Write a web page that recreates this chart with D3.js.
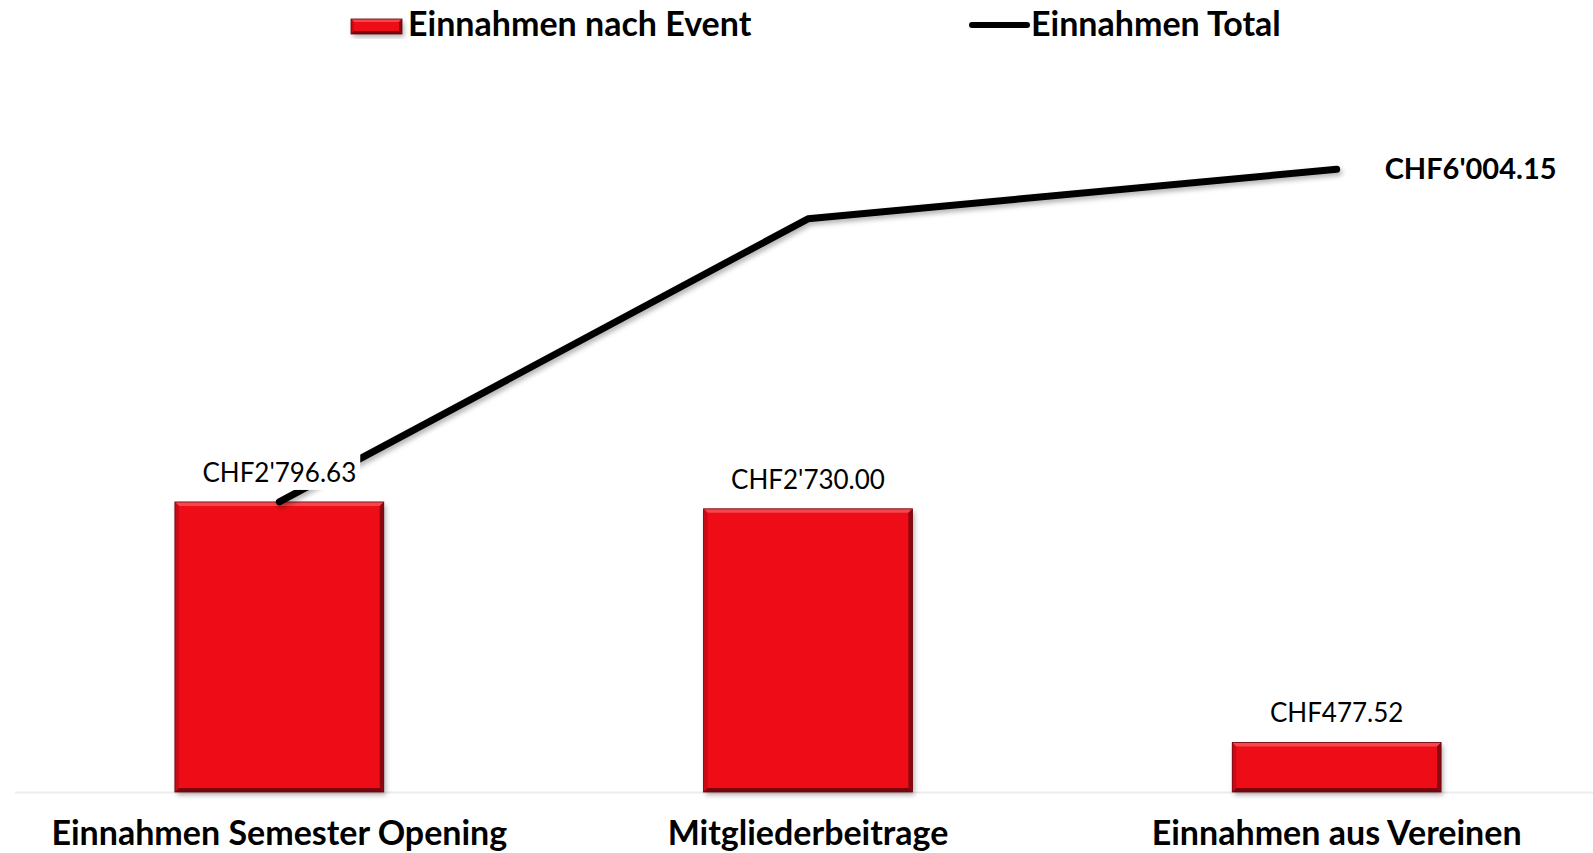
<!DOCTYPE html>
<html>
<head>
<meta charset="utf-8">
<script src="https://cdn.jsdelivr.net/npm/d3@7"></script>
<style>
  body { margin: 0; background: #fff; }
  svg { display: block; font-family: "Lato", "Open Sans", sans-serif; }
</style>
</head>
<body>
<svg></svg>
<script>
const categories = ['Einnahmen Semester Opening', 'Mitgliederbeitrage', 'Einnahmen aus Vereinen'];
const eventValues = [2796.63, 2730.00, 477.52];
const totalValues = [2796.63, 5526.63, 6004.15];
const seriesNames = ['Einnahmen nach Event', 'Einnahmen Total'];

const width = 1593;
const height = 853;
const margin = { top: 66, right: -8, bottom: 61, left: 15 };

const fmt = v => 'CHF' + d3.format(',.2f')(v).replace(/,/g, "'");

const svg = d3.select('svg')
  .attr('width', width)
  .attr('height', height);

const defs = svg.append('defs');

const shadow = defs.append('filter')
  .attr('id', 'shadow')
  .attr('x', '-10%').attr('y', '-10%').attr('width', '130%').attr('height', '140%');
shadow.append('feDropShadow')
  .attr('dx', 2).attr('dy', 3).attr('stdDeviation', 2.5)
  .attr('flood-color', '#000').attr('flood-opacity', 0.3);

const xScale = d3.scaleBand()
  .domain(categories)
  .range([margin.left, width - margin.right])
  .paddingInner(0.605)
  .paddingOuter(0.3025);

const yScale = d3.scaleLinear()
  .domain([0, 7000])
  .range([height - margin.bottom, margin.top]);

const baseY = yScale(0);

// light baseline
svg.append('line')
  .attr('x1', margin.left).attr('x2', width)
  .attr('y1', baseY + 0.5).attr('y2', baseY + 0.5)
  .attr('stroke', '#ececec').attr('stroke-width', 2);

// category axis
const xAxis = d3.axisBottom(xScale).tickSize(0).tickPadding(0);
const gx = svg.append('g')
  .attr('transform', `translate(0,${baseY})`)
  .call(xAxis);
gx.select('.domain').remove();
gx.selectAll('text')
  .attr('y', 53)
  .attr('dy', 0)
  .attr('fill', '#000')
  .style('font-size', '34px')
  .style('font-weight', 'bold')
  .style('font-family', '"Lato", sans-serif');

// bevelled bar, drawn from a box
function bevel(g, x, y, w, h, b) {
  g.append('rect')
    .attr('x', x).attr('y', y).attr('width', w).attr('height', h)
    .attr('fill', '#ee0d19')
    .attr('filter', 'url(#shadow)');
  const faces = [
    { pts: [[x, y], [x + w, y], [x + w - b, y + b], [x + b, y + b]], c: '#f4474f' },
    { pts: [[x, y], [x + b, y + b], [x + b, y + h - b], [x, y + h]], c: '#c90b15' },
    { pts: [[x + w, y], [x + w, y + h], [x + w - b, y + h - b], [x + w - b, y + b]], c: '#8a0610' },
    { pts: [[x, y + h], [x + b, y + h - b], [x + w - b, y + h - b], [x + w, y + h]], c: '#7a050d' }
  ];
  g.selectAll('path.face')
    .data(faces)
    .enter().append('path')
    .attr('class', 'face')
    .attr('d', d => 'M' + d.pts.join('L') + 'Z')
    .attr('fill', d => d.c);
  g.append('rect')
    .attr('x', x).attr('y', y).attr('width', w).attr('height', h)
    .attr('fill', 'none')
    .attr('stroke', '#6a040b')
    .attr('stroke-width', 0.8);
}

const bars = svg.append('g');
eventValues.forEach((v, i) => {
  const g = bars.append('g').attr('class', 'bar');
  bevel(g, xScale(categories[i]), yScale(v), xScale.bandwidth(), baseY - yScale(v), 4);
});

// total line
const cx = c => xScale(c) + xScale.bandwidth() / 2;
const line = d3.line()
  .x((d, i) => cx(categories[i]))
  .y(d => yScale(d));

svg.append('path')
  .datum(totalValues)
  .attr('d', line)
  .attr('fill', 'none')
  .attr('stroke', '#000')
  .attr('stroke-width', 7)
  .attr('stroke-linecap', 'round')
  .attr('stroke-linejoin', 'round')
  .attr('filter', 'url(#shadow)');

// bar value labels (white backing box)
const labels = svg.append('g');
eventValues.forEach((v, i) => {
  const g = labels.append('g');
  const t = g.append('text')
    .attr('x', cx(categories[i]))
    .attr('y', yScale(v) - 20)
    .attr('text-anchor', 'middle')
    .style('font-size', '26px')
    .attr('fill', '#000')
    .text(fmt(v));
  const bb = t.node().getBBox();
  g.insert('rect', 'text')
    .attr('x', bb.x - 4).attr('y', bb.y - 2)
    .attr('width', bb.width + 8).attr('height', bb.height + 4)
    .attr('fill', '#fff');
});

// total label
const last = totalValues.length - 1;
svg.append('text')
  .attr('x', cx(categories[last]) + 48)
  .attr('y', yScale(totalValues[last]) + 10)
  .style('font-size', '29px')
  .style('font-weight', 'bold')
  .attr('fill', '#000')
  .text(fmt(totalValues[last]));

// legend
const legend = svg.append('g');
bevel(legend.append('g'), 351, 19, 51, 15, 3);
legend.append('text')
  .attr('x', 408).attr('y', 36)
  .style('font-size', '34px')
  .style('font-weight', 'bold')
  .text(seriesNames[0]);
legend.append('line')
  .attr('x1', 972).attr('x2', 1027)
  .attr('y1', 25).attr('y2', 25)
  .attr('stroke', '#000')
  .attr('stroke-width', 6)
  .attr('stroke-linecap', 'round');
legend.append('text')
  .attr('x', 1031).attr('y', 36)
  .style('font-size', '34px')
  .style('font-weight', 'bold')
  .text(seriesNames[1]);
</script>
</body>
</html>
